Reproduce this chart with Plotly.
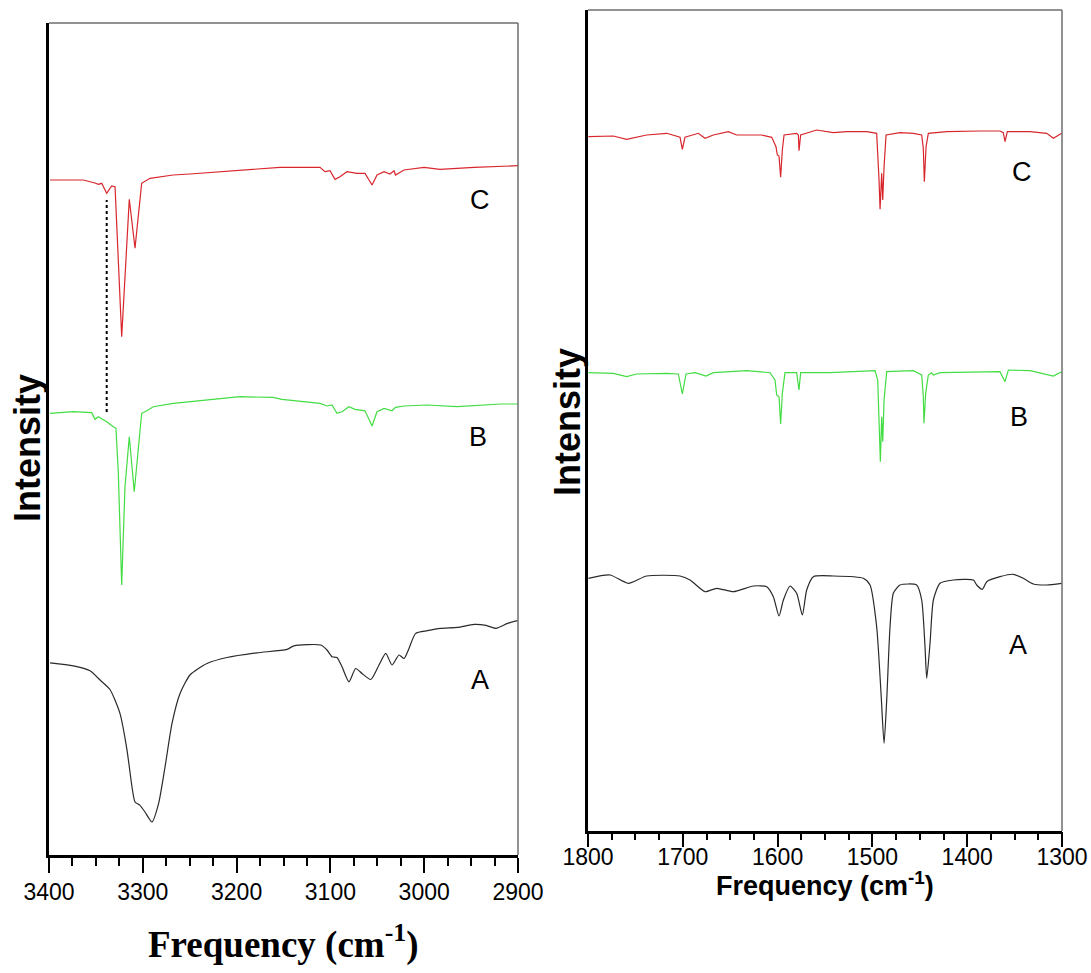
import plotly.graph_objects as go

# ---------------- Left panel (3400-2900 cm-1) ----------------
L_C_FREQ = [3398.9, 3363.4, 3351.0, 3347.4, 3343.8, 3338.5, 3333.2, 3329.6, 3322.5, 3314.4,
            3308.3, 3301.2, 3292.3, 3267.8, 3249.7, 3231.9, 3196.4, 3153.7, 3111.1, 3105.8,
            3100.4, 3095.1, 3089.8, 3082.3, 3071.6, 3063.1, 3055.6, 3050.3, 3042.8, 3036.5,
            3032.2, 3030.6, 3021.5, 3000.2, 2983.2, 2946.9, 2900.0]
L_C_INT = [675, 675, 672, 670.7, 671.7, 661.7, 669, 668.3, 518.3, 655.7,
           606.7, 671.7, 676.7, 680, 681, 682.3, 685, 687.7, 687.7, 683.3,
           684.3, 675.6, 678.3, 683.3, 681.6, 681.6, 670, 680, 683.3, 681,
           684.3, 680, 685, 687.7, 685.6, 687.7, 689.3]

L_B_FREQ = [3398.9, 3374.1, 3354.5, 3351.0, 3347.4, 3338.5, 3331.4, 3328.6, 3326.1, 3322.5,
            3319.0, 3314.4, 3309.1, 3304.8, 3301.2, 3295.8, 3288.8, 3267.5, 3231.9, 3196.4,
            3161.2, 3151.6, 3111.1, 3103.6, 3098.3, 3093.0, 3087.6, 3080.2, 3073.8, 3063.1,
            3055.6, 3050.3, 3042.8, 3034.3, 3030.6, 3021.5, 2997.0, 2965.0, 2918.1, 2900.0]
L_B_INT = [441.7, 443.3, 442.3, 435.7, 438.3, 433.3, 428.3, 426.7, 382, 270,
           368.3, 418.3, 363.3, 408.3, 441.7, 444.3, 448.3, 451.7, 455, 458.3,
           457.6, 455.6, 451.6, 449, 450, 441.6, 443.2, 448.3, 445.6, 444.2,
           429, 443.2, 446.6, 444.2, 447.6, 449, 450, 448.3, 451, 451]

L_A_FREQ = [3398.9, 3374.0, 3356.3, 3345.6, 3335.0, 3324.3, 3316.8, 3311.5, 3308.3, 3303.0,
            3297.7, 3290.2, 3283.2, 3276.3, 3268.9, 3260.3, 3249.7, 3231.6, 3210.2, 3178.3,
            3146.3, 3138.8, 3110.4, 3103.6, 3098.3, 3093.0, 3087.6, 3080.2, 3073.1, 3066.3,
            3057.0, 3048.2, 3041.0, 3034.3, 3026.9, 3021.5, 3016.2, 3009.1, 2996.6, 2982.3,
            2964.5, 2946.9, 2934.1, 2923.5, 2911.1, 2900.4]
L_A_INT = [192.2, 189.2, 184.2, 175, 165.5, 141.4, 104.7, 68, 53, 49.6,
           43, 33, 51.3, 88, 131.4, 161.5, 180, 191.5, 197.5, 202.2,
           205.6, 209.2, 210, 205, 198.2, 197.6, 188.2, 173.2, 186.5, 181.5,
           175.5, 190, 201.6, 190, 200, 196.5, 206.6, 221.6, 224.3, 226.6,
           227.6, 230.6, 229.6, 226.6, 231.6, 234.3]

DOT_FREQ = [3338.5, 3338.5]
DOT_INT = [443, 655]

# ---------------- Right panel (1800-1300 cm-1) ----------------
R_C_FREQ = [1799.6, 1773.3, 1759.2, 1738.1, 1717.0, 1702.9, 1700.5, 1697.7, 1683.6, 1676.6,
            1667.8, 1652.0, 1643.2, 1616.8, 1606.2, 1601.7, 1600.3, 1598.5, 1596.8, 1595.0,
            1593.2, 1579.9, 1578.1, 1577.4, 1575.7, 1558.8, 1541.2, 1527.1, 1506.0, 1495.5,
            1493.0, 1491.9, 1490.2, 1489.1, 1487.7, 1485.6, 1470.9, 1456.8, 1448.0, 1446.3,
            1445.2, 1443.4, 1441.0, 1421.6, 1386.5, 1365.4, 1361.9, 1360.1, 1357.7, 1333.7,
            1316.1, 1309.1, 1300.3]
R_C_INT = [694.3, 695, 691.7, 696, 697.7, 693.7, 681.7, 693.7, 697.7, 692.7,
           696, 699.3, 696, 696, 693.7, 684.3, 676, 675, 653.7, 681,
           696, 697.7, 696, 680.3, 696, 701, 698.3, 699.3, 699.3, 697.7,
           651, 621.7, 657.7, 631, 664.3, 696, 698.3, 697.7, 696, 682.7,
           649.3, 684.3, 697.7, 699.3, 700, 700, 698.3, 689.3, 699.3, 699.3,
           697.7, 692.7, 697.7]

R_B_FREQ = [1799.6, 1773.3, 1759.2, 1748.7, 1717.0, 1704.7, 1700.5, 1696.6, 1687.1, 1675.5,
            1667.8, 1632.6, 1608.0, 1602.7, 1601.0, 1598.5, 1596.8, 1595.0, 1592.2, 1579.9,
            1577.4, 1575.7, 1544.7, 1516.6, 1497.2, 1494.4, 1492.7, 1491.6, 1490.2, 1489.1,
            1487.7, 1484.9, 1456.8, 1448.0, 1446.3, 1445.6, 1443.8, 1441.0, 1437.5, 1435.7,
            1428.7, 1386.5, 1365.4, 1360.1, 1356.6, 1333.7, 1309.1, 1300.3]
R_B_INT = [458.3, 457.7, 454.3, 457, 457.7, 457, 437, 457, 458.3, 455,
           458.3, 460.3, 458.3, 451, 436, 434.3, 407, 437.7, 458.3, 458.3,
           441, 458.3, 458.3, 459.3, 460.3, 451, 397.7, 369.3, 414.3, 389.3,
           431, 459.3, 460.3, 456, 434.3, 407.7, 437.7, 456, 458.3, 456,
           458.3, 459.3, 459.3, 449.3, 461, 460.3, 455, 459.3]

R_A_FREQ = [1799.6, 1776.8, 1757.5, 1738.1, 1702.9, 1692.4, 1676.6, 1664.3, 1646.7, 1625.6,
            1611.5, 1604.5, 1598.5, 1593.9, 1586.9, 1579.9, 1573.9, 1569.3, 1562.3, 1541.2,
            1509.6, 1502.5, 1495.5, 1490.9, 1487.7, 1484.9, 1481.4, 1477.9, 1470.9, 1453.3,
            1448.0, 1444.5, 1442.7, 1439.2, 1435.7, 1428.7, 1414.6, 1393.5, 1390.0, 1384.0,
            1379.4, 1365.4, 1351.3, 1340.8, 1330.2, 1316.1, 1300.3]
R_A_INT = [252.7, 256, 247.7, 255, 255, 251, 239.3, 242.7, 239.3, 245,
           244.3, 234.3, 215, 231, 245, 237.7, 216, 241, 254.3, 255,
           252.7, 246, 204.3, 137.7, 87.7, 131, 204.3, 237.7, 246, 246,
           231, 184.3, 152.7, 187.7, 231, 247.7, 251, 251, 246, 241.7,
           249.3, 254.3, 256.7, 252.7, 247, 246, 247.7]

LABELS = ["A", "B", "C"]
L_LABEL_FREQ = [2940.5, 2942.6, 2940.5]
L_LABEL_INT = [175, 418, 655]
R_LABEL_FREQ = [1346.4, 1345.4, 1342.2]
R_LABEL_INT = [186, 414, 659]

RED = "#d8262c"
GREEN = "#43dd43"
DARK = "#2a2a2a"

fig = go.Figure()


def add_line(x, y, color, xa, ya, width=1.2, dash=None, shape="linear"):
    fig.add_trace(go.Scatter(x=x, y=y, mode="lines", xaxis=xa, yaxis=ya,
                             line=dict(color=color, width=width, dash=dash, shape=shape,
                                       smoothing=0.6 if shape == "spline" else None),
                             showlegend=False, hoverinfo="skip"))


add_line(L_A_FREQ, L_A_INT, DARK, "x", "y", shape="spline")
add_line(L_B_FREQ, L_B_INT, GREEN, "x", "y")
add_line(L_C_FREQ, L_C_INT, RED, "x", "y")
add_line(DOT_FREQ, DOT_INT, "black", "x", "y", width=2, dash="dot")
add_line(R_A_FREQ, R_A_INT, DARK, "x2", "y2", shape="spline")
add_line(R_B_FREQ, R_B_INT, GREEN, "x3", "y2")
add_line(R_C_FREQ, R_C_INT, RED, "x3", "y2")

SANS = "Liberation Sans, Arial, sans-serif"
TICKFONT = dict(family=SANS, size=23, color="black")
MINOR = dict(dtick=25, ticks="outside", ticklen=8, tickwidth=2, tickcolor="black")

common_x = dict(showline=True, linecolor="black", linewidth=2.5, ticks="outside",
                ticklen=15, tickwidth=2, tickcolor="black", dtick=100,
                showgrid=False, zeroline=False, tickfont=TICKFONT, automargin=False,
                minor=MINOR)
common_y = dict(showline=True, linecolor="black", linewidth=2.5, ticks="",
                showticklabels=False, showgrid=False, zeroline=False, automargin=False)

W, H = 1091, 973
R_DOM = [588 / W, 1062 / W]
fig.update_layout(
    width=W, height=H, margin=dict(l=0, r=0, t=0, b=0, autoexpand=False),
    paper_bgcolor="white", plot_bgcolor="white",
    xaxis=dict(domain=[49 / W, 518 / W], range=[3400, 2900], anchor="y", **common_x),
    yaxis=dict(domain=[1 - 855 / H, 1 - 23 / H], range=[0, 832], anchor="x", **common_y),
    # right panel: x2 carries the (closer) tick labels, x3 draws the visible ticks
    xaxis2=dict(domain=R_DOM, range=[1800, 1300], anchor="y2", showline=True,
                linecolor="black", linewidth=2.5, ticks="outside", ticklen=4,
                tickcolor="rgba(0,0,0,0)", dtick=100, showgrid=False, zeroline=False,
                tickfont=TICKFONT, automargin=False),
    xaxis3=dict(domain=R_DOM, range=[1800, 1300], anchor="y2", overlaying="x2",
                showline=False, ticks="outside", ticklen=15, tickwidth=2, tickcolor="black",
                dtick=100, showticklabels=False, showgrid=False, zeroline=False,
                automargin=False, minor=MINOR),
    yaxis2=dict(domain=[1 - 831 / H, 1 - 10 / H], range=[0, 821], anchor="x2", **common_y),
)

# top/right frame lines (thin grey)
for xr, yr in [("x domain", "y domain"), ("x2 domain", "y2 domain")]:
    fig.add_shape(type="line", xref=xr, yref=yr, x0=0, x1=1, y0=1, y1=1,
                  line=dict(color="#6e6e6e", width=1.5))
    fig.add_shape(type="line", xref=xr, yref=yr, x0=1, x1=1, y0=0, y1=1,
                  line=dict(color="#6e6e6e", width=1.5))

LABELFONT = dict(family=SANS, size=27, color="black")
for lab, fx, fy in zip(LABELS, L_LABEL_FREQ, L_LABEL_INT):
    fig.add_annotation(x=fx, y=fy, xref="x", yref="y", text=lab, showarrow=False, font=LABELFONT)
for lab, fx, fy in zip(LABELS, R_LABEL_FREQ, R_LABEL_INT):
    fig.add_annotation(x=fx, y=fy, xref="x2", yref="y2", text=lab, showarrow=False, font=LABELFONT)

# axis titles
def title(x, y, text, font, angle=0):
    fig.add_annotation(x=x / W, y=1 - y / H, xref="paper", yref="paper",
                       xanchor="center", yanchor="middle", text=text, showarrow=False,
                       textangle=angle, font=font)


title(283, 942, "<b>Frequency (cm<sup>-1</sup>)</b>",
      dict(family="Liberation Serif, Times New Roman, serif", size=37, color="black"))
title(825, 884, "<b>Frequency (cm<sup>-1</sup>)</b>", dict(family=SANS, size=27, color="black"))
title(27, 448, "<b>Intensity</b>", dict(family=SANS, size=36, color="black"), -90)
title(567, 422, "<b>Intensity</b>", dict(family=SANS, size=36, color="black"), -90)

fig.write_html("out.html", config={"displayModeBar": False},
               post_script="document.body.style.margin='0';document.body.style.padding='0';")
